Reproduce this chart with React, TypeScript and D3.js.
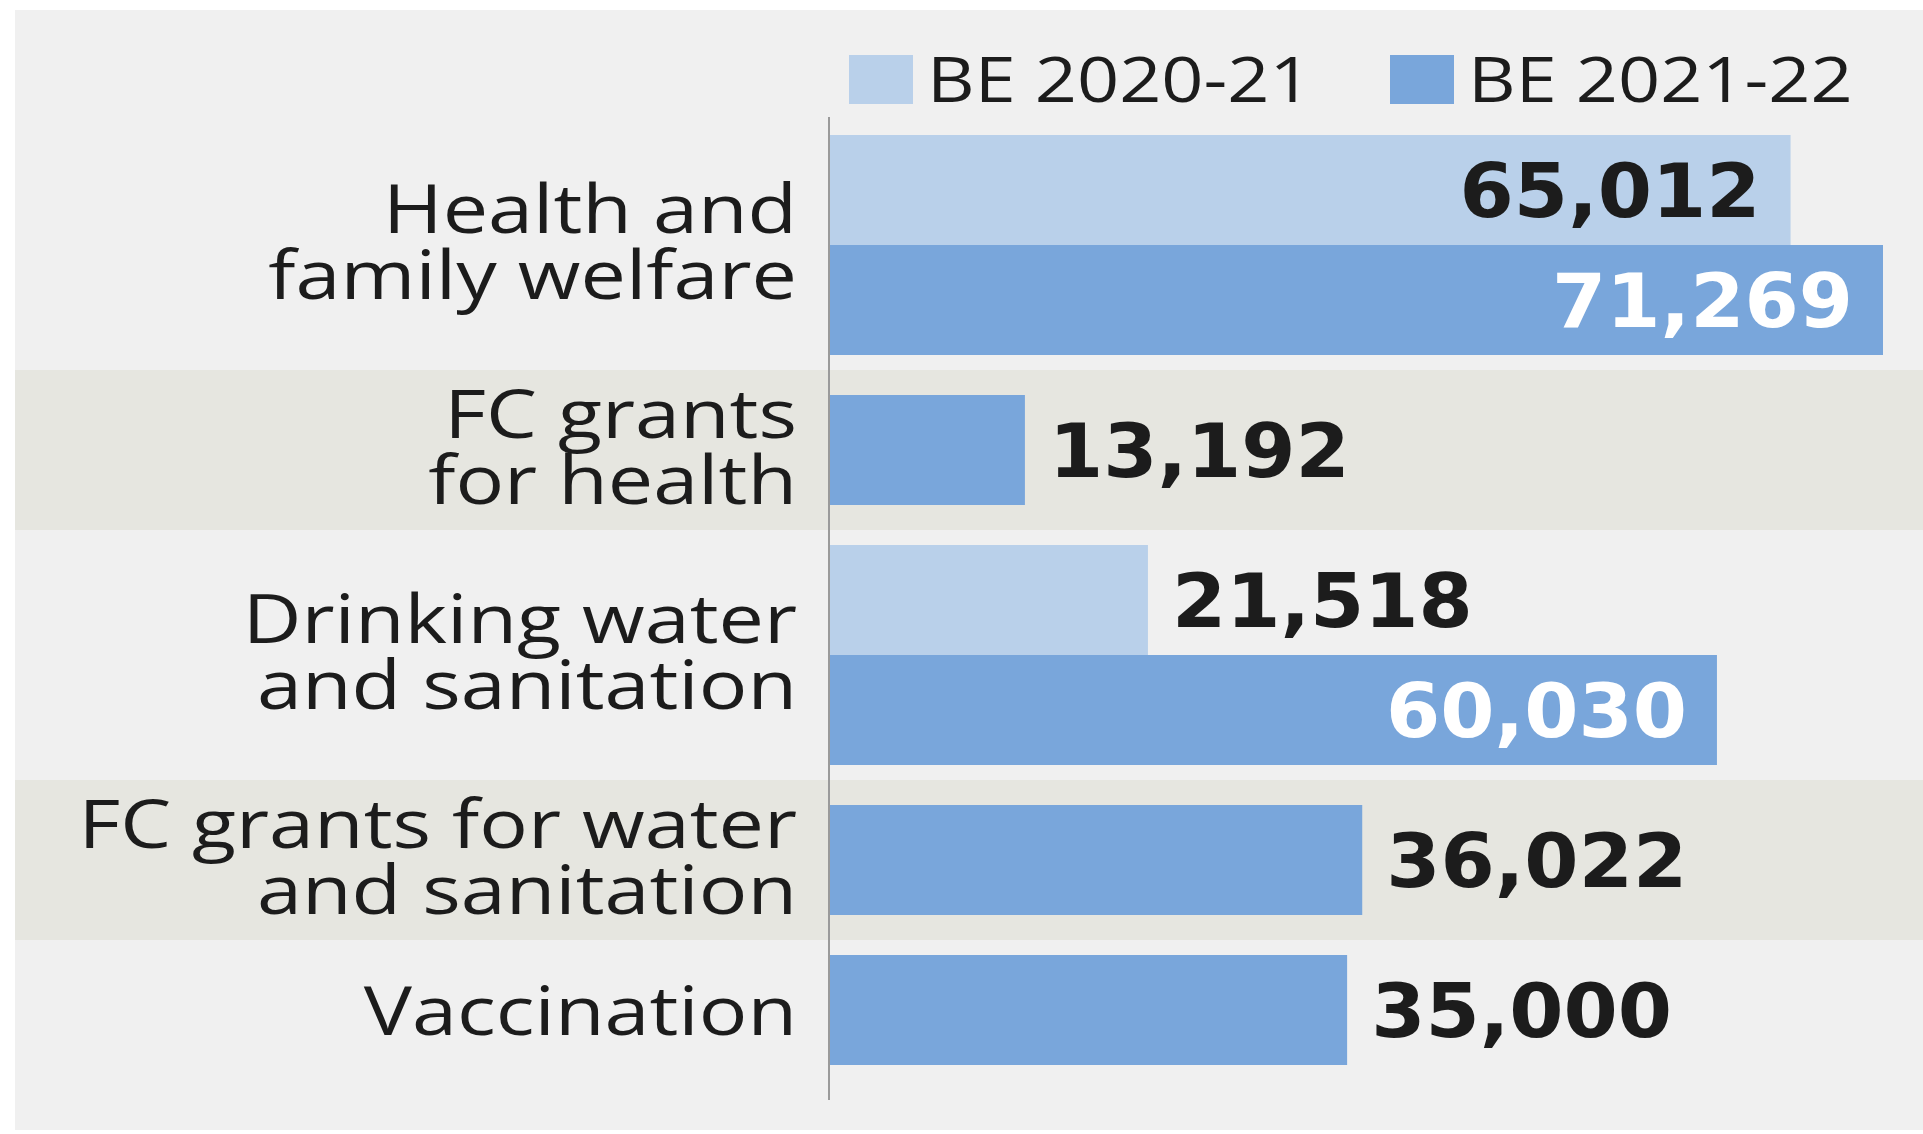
import React from "react";
import * as d3 from "d3";

const categories = [
  "Health and family welfare",
  "FC grants for health",
  "Drinking water and sanitation",
  "FC grants for water and sanitation",
  "Vaccination",
];
const categoryLines = [
  ["Health and", "family welfare"],
  ["FC grants", "for health"],
  ["Drinking water", "and sanitation"],
  ["FC grants for water", "and sanitation"],
  ["Vaccination"],
];
const seriesNames = ["BE 2020-21", "BE 2021-22"];
const be2020: (number | null)[] = [65012, null, 21518, null, null];
const be2021: (number | null)[] = [71269, 13192, 60030, 36022, 35000];
const shadedRows = [false, true, false, true, false];

const W = 1923;
const H = 1134;
const COLORS = ["#b9d0ea", "#79a6db"];
const BG = "#f0f0f0";
const BAND = "#e6e6e0";
const TEXT = "#1c1c1c";
const STRETCH = 1.19;

export default function App() {
  const x0 = 830;
  const x = d3.scaleLinear().domain([0, 71269]).range([x0, 1883]);
  const barH = 110;
  const gap = 40;
  const top = 135;
  const fmt = d3.format(",");

  type Bar = { v: number; s: number; y: number };
  const rows: { y0: number; y1: number; bars: Bar[] }[] = [];
  let cy = top;
  categories.forEach((_, i) => {
    const bars: Bar[] = [];
    const y0 = cy;
    [be2020[i], be2021[i]].forEach((v, s) => {
      if (v != null) {
        bars.push({ v, s, y: cy });
        cy += barH;
      }
    });
    rows.push({ y0, y1: cy, bars });
    cy += gap;
  });

  return (
    <svg
      width={W}
      height={H}
      style={{ position: "absolute", left: 0, top: 0, display: "block" }}
    >
      <rect x={0} y={0} width={W} height={H} fill="#ffffff" />
      <rect x={15} y={10} width={W - 15} height={1120} fill={BG} />
      {rows.map((r, i) =>
        shadedRows[i] ? (
          <rect
            key={"band" + i}
            x={15}
            y={r.y0 - 25}
            width={W - 15}
            height={r.y1 - r.y0 + 50}
            fill={BAND}
          />
        ) : null
      )}
      {/* legend */}
      {seriesNames.map((n, s) => {
        const lx = s === 0 ? 849 : 1390;
        return (
          <g key={n}>
            <rect x={lx} y={55} width={64} height={49} fill={COLORS[s]} />
            <text
              transform={`translate(${lx + 78},102) scale(${STRETCH},1)`}
              fontFamily="'Open Sans', sans-serif"
              fontSize={62}
              fill={TEXT}
            >
              {n}
            </text>
          </g>
        );
      })}
      {/* bars */}
      {rows.map((r, i) =>
        r.bars.map((b) => {
          const end = x(b.v);
          const inside = b.v > 50000;
          const ty = b.y + barH / 2 + 27;
          const tx = inside ? end - 30 : end + 24;
          return (
            <g key={i + "-" + b.s}>
              <rect
                x={x0}
                y={b.y}
                width={end - x0}
                height={barH}
                fill={COLORS[b.s]}
              />
              <text
                transform={`translate(${tx},${ty}) scale(1.04,1)`}
                textAnchor={inside ? "end" : "start"}
                fontFamily="'DejaVu Sans', sans-serif"
                fontWeight="bold"
                fontSize={75}
                fill={inside && b.s === 1 ? "#ffffff" : TEXT}
              >
                {fmt(b.v)}
              </text>
            </g>
          );
        })
      )}
      {/* category labels */}
      {rows.map((r, i) => {
        const c = (r.y0 + r.y1) / 2;
        const lines = categoryLines[i];
        const first = lines.length === 1 ? c + 25 : c - 12;
        return (
          <g key={"lab" + i} transform={`translate(797,0) scale(${STRETCH},1)`}>
            {lines.map((l, k) => (
              <text
                key={k}
                x={0}
                y={first + k * 66}
                textAnchor="end"
                fontFamily="'Open Sans', sans-serif"
                fontSize={68}
                fill={TEXT}
              >
                {l}
              </text>
            ))}
          </g>
        );
      })}
      <line x1={829} x2={829} y1={117} y2={1100} stroke="#9a9a9a" strokeWidth={2} />
    </svg>
  );
}
